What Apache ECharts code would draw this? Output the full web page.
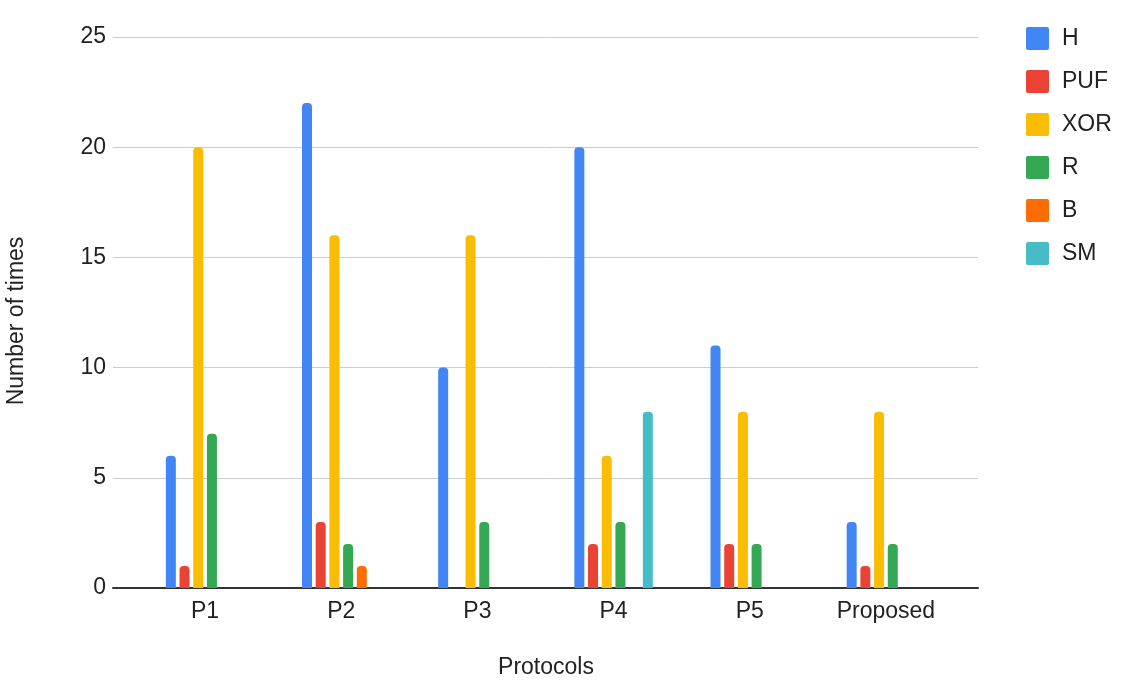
<!DOCTYPE html>
<html>
<head>
<meta charset="utf-8">
<script src="https://cdn.jsdelivr.net/npm/echarts@6/dist/echarts.min.js"></script>
<style>
html,body{margin:0;padding:0;background:#fff;}
#main{width:1124px;height:689px;}
</style>
</head>
<body>
<div id="main"></div>
<script>
const categories = ['P1', 'P2', 'P3', 'P4', 'P5', 'Proposed'];
const seriesNames = ['H', 'PUF', 'XOR', 'R', 'B', 'SM'];
const H   = [6, 22, 10, 20, 11, 3];
const PUF = [1, 3, 0, 2, 2, 1];
const XOR = [20, 16, 16, 6, 8, 8];
const R   = [7, 2, 3, 3, 2, 2];
const B   = [0, 1, 0, 0, 0, 0];
const SM  = [0, 0, 0, 8, 0, 0];
const yTicks = [0, 5, 10, 15, 20, 25];
const colors = ['#4285F4', '#EA4335', '#FBBC04', '#34A853', '#FF6D01', '#46BDC6'];
const values = [H, PUF, XOR, R, B, SM];

const FONT = '"Liberation Sans", Arial, sans-serif';
const chart = echarts.init(document.getElementById('main'), null, {renderer: 'canvas'});

const series = seriesNames.map((name, i) => ({
  name: name,
  type: 'bar',
  xAxisIndex: 0,
  yAxisIndex: 0,
  data: values[i],
  barWidth: 10,
  barGap: '37%',
  itemStyle: {color: colors[i], borderRadius: [4, 4, 0, 0]},
  emphasis: {disabled: true}
}));

const legendIcon = 'path://M2,0 L21,0 Q23,0 23,2 L23,21 Q23,23 21,23 L2,23 Q0,23 0,21 L0,2 Q0,0 2,0 Z';

chart.setOption({
  animation: false,
  backgroundColor: '#fff',
  textStyle: {fontFamily: FONT},
  color: colors,
  grid: [
    {left: 137, right: 170, top: 37, bottom: 101, containLabel: false},
    {left: 113, right: 146, top: 37, bottom: 101, containLabel: false}
  ],
  xAxis: [
    {
      type: 'category', gridIndex: 0, data: categories,
      axisLine: {show: false}, axisTick: {show: false},
      axisLabel: {color: '#222', fontSize: 23, fontFamily: FONT, margin: 12}
    },
    {
      type: 'value', gridIndex: 1, min: 0, max: 1,
      axisLine: {show: true, onZero: false, lineStyle: {color: '#333', width: 2}},
      axisTick: {show: false}, axisLabel: {show: false}, splitLine: {show: false}
    }
  ],
  yAxis: [
    {
      type: 'value', gridIndex: 0, min: 0, max: 25, interval: 5,
      axisLine: {show: false}, axisTick: {show: false},
      axisLabel: {show: false}, splitLine: {show: false}
    },
    {
      type: 'value', gridIndex: 1, min: 0, max: 25, interval: 5,
      axisLine: {show: false}, axisTick: {show: false},
      axisLabel: {color: '#222', fontSize: 23, fontFamily: FONT, margin: 7,
        formatter: v => yTicks.includes(v) ? String(v) : ''},
      splitLine: {show: true, lineStyle: {color: '#cccccc', width: 1}}
    }
  ],
  legend: {
    orient: 'vertical',
    left: 1021,
    top: 22,
    itemWidth: 23,
    itemHeight: 23,
    itemGap: 20,
    icon: legendIcon,
    data: seriesNames,
    textStyle: {color: '#222', fontSize: 23, fontFamily: FONT, padding: [0, 0, 0, 8]},
    selectedMode: false
  },
  graphic: [
    {
      type: 'text', x: 17, y: 321, rotation: Math.PI / 2,
      style: {text: 'Number of times', fontSize: 23, fontFamily: FONT, fill: '#222',
        align: 'center', verticalAlign: 'middle'}
    },
    {
      type: 'text', x: 546, y: 668,
      style: {text: 'Protocols', fontSize: 23, fontFamily: FONT, fill: '#222',
        align: 'center', verticalAlign: 'middle'}
    }
  ],
  series: series
});
</script>
</body>
</html>
